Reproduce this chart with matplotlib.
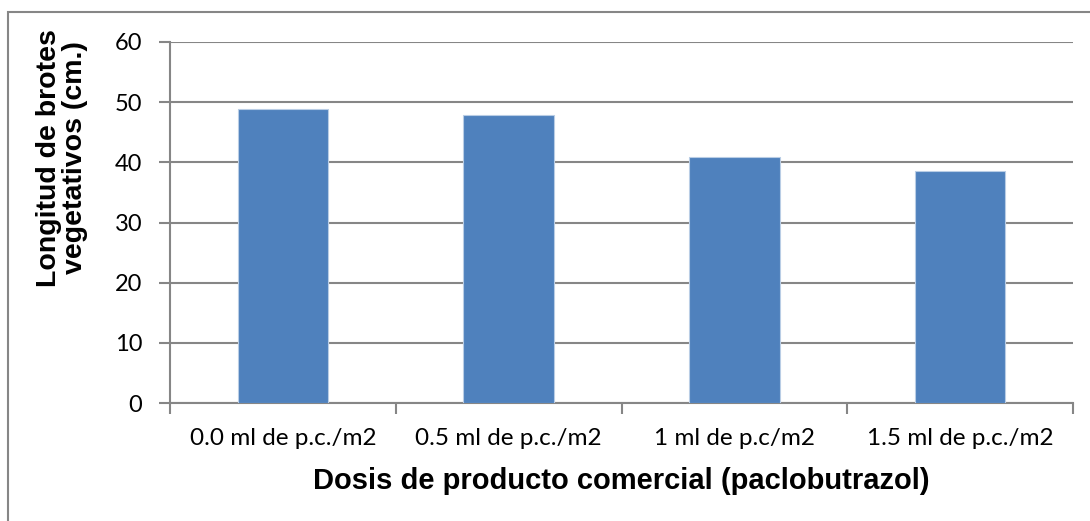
import matplotlib
matplotlib.use("Agg")
import matplotlib.pyplot as plt
from matplotlib.patches import Rectangle

doses = [
    "0.0 ml de p.c./m2",
    "0.5 ml de p.c./m2",
    "1 ml de p.c/m2",
    "1.5 ml de p.c./m2",
]
shoot_length = [48.9, 47.9, 40.9, 38.6]
y_ticks = [0, 10, 20, 30, 40, 50, 60]

W, H = 1090, 521
fig = plt.figure(figsize=(W / 100, H / 100), dpi=100)
ax = fig.add_axes([170 / W, 1 - 403 / H, (1073 - 170) / W, (403 - 42) / H])

grey = "#868686"
x = list(range(len(doses)))
ax.bar(x, shoot_length, width=0.4, color="#4F81BD", edgecolor="#B9CDE5",
       linewidth=0.8, zorder=3)

ax.set_xlim(-0.5, len(doses) - 0.5)
ax.set_ylim(0, 60)
ax.set_yticks(y_ticks)
ax.set_yticklabels([str(v) for v in y_ticks], fontfamily="Lato", fontsize=17)
ax.yaxis.grid(True, color=grey, linewidth=1.5, zorder=0)
ax.set_axisbelow(True)

# category labels sit between the boundary ticks
ax.set_xticks([i - 0.5 for i in range(len(doses) + 1)])
ax.set_xticklabels([])
ax.set_xticks(x, minor=True)
ax.set_xticklabels(doses, minor=True, fontfamily="Lato", fontsize=17.5)
ax.tick_params(axis="x", which="minor", length=0, pad=18)
ax.tick_params(axis="x", which="major", length=8, color=grey, width=1.5)
ax.tick_params(axis="y", length=8, color=grey, width=1.5, pad=12)

for side in ("top", "right"):
    ax.spines[side].set_visible(False)
for side in ("left", "bottom"):
    ax.spines[side].set_color(grey)
    ax.spines[side].set_linewidth(1.5)

fig.text(621 / W, 1 - 481 / H, "Dosis de producto comercial (paclobutrazol)",
         ha="center", va="center", fontfamily="Liberation Sans",
         fontweight="bold", fontsize=21)
fig.text(62 / W, 1 - 158 / H, "Longitud de brotes\nvegetativos (cm.)",
         rotation=90, ha="center", va="center", multialignment="center",
         fontfamily="Liberation Sans", fontweight="bold", fontsize=20.5,
         linespacing=0.95)

# chart frame
fig.patches.append(Rectangle((8 / W, -0.2), 1.5, 1.2 - 12 / H,
                             transform=fig.transFigure, fill=False,
                             edgecolor=grey, linewidth=1.5))

fig.savefig("out.png", dpi=100)
